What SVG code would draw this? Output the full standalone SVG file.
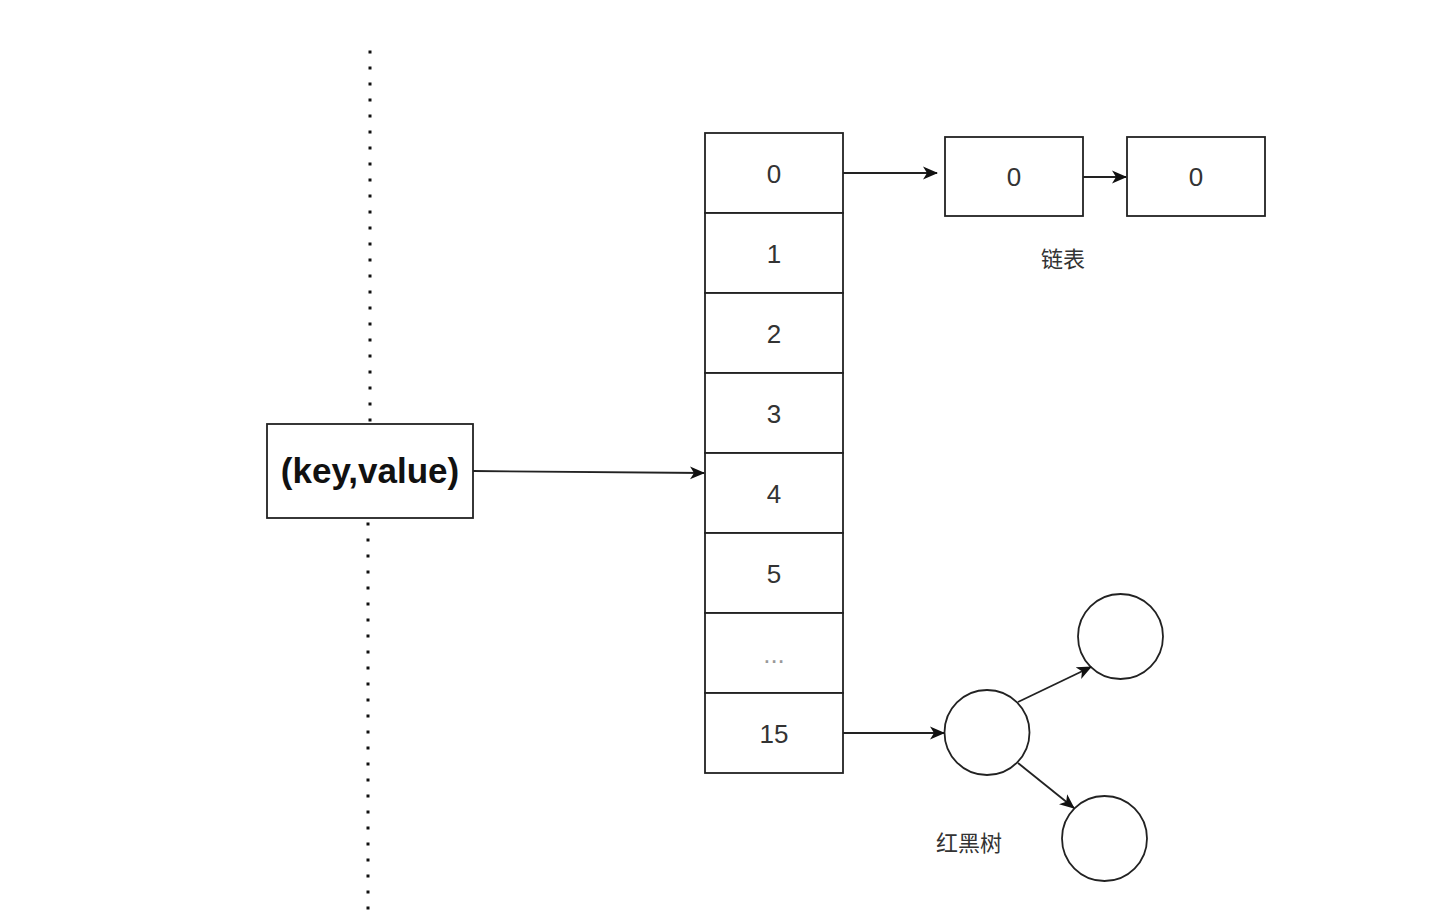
<svg xmlns="http://www.w3.org/2000/svg" width="1452" height="914" viewBox="0 0 1452 914">
<defs>
<style>
.box{fill:#fff;stroke:#222;stroke-width:1.8}
.num{font-family:"Liberation Sans",Arial,sans-serif;font-size:26px;fill:#333;text-anchor:middle}
.cjk{font-family:"Liberation Sans","Noto Sans CJK SC",sans-serif;font-size:22px;fill:#333;text-anchor:middle}
.edge{fill:none;stroke:#222;stroke-width:1.8}
.dot{fill:none;stroke:#111;stroke-width:3;stroke-dasharray:3 13}
</style>
<marker id="arr" markerWidth="15" markerHeight="14" refX="14" refY="7" orient="auto" markerUnits="userSpaceOnUse">
<path d="M0,0.5 L15,7 L0,13.5 L4,7 Z" fill="#111"/>
</marker>
</defs>
<rect width="1452" height="914" fill="#fff"/>
<g id="divider">
<line class="dot" x1="370" y1="50.5" x2="370" y2="424"/>
<line class="dot" x1="368" y1="522.5" x2="368" y2="914"/>
</g>
<g id="kv">
<rect class="box" x="267" y="424" width="206" height="94"/>
<text x="370" y="483" font-family="Liberation Sans,Arial,sans-serif" font-size="35" font-weight="bold" fill="#111" text-anchor="middle">(key,value)</text>
</g>
<g id="array">
<rect class="box" x="705" y="133" width="138" height="80"/>
<text class="num" x="774" y="183">0</text>
<rect class="box" x="705" y="213" width="138" height="80"/>
<text class="num" x="774" y="263">1</text>
<rect class="box" x="705" y="293" width="138" height="80"/>
<text class="num" x="774" y="343">2</text>
<rect class="box" x="705" y="373" width="138" height="80"/>
<text class="num" x="774" y="423">3</text>
<rect class="box" x="705" y="453" width="138" height="80"/>
<text class="num" x="774" y="503">4</text>
<rect class="box" x="705" y="533" width="138" height="80"/>
<text class="num" x="774" y="583">5</text>
<rect class="box" x="705" y="613" width="138" height="80"/>
<text class="num" x="774" y="663" style="fill:#999">...</text>
<rect class="box" x="705" y="693" width="138" height="80"/>
<text class="num" x="774" y="743">15</text>
</g>
<g id="list1">
<rect class="box" x="945" y="137" width="138" height="79"/>
<text class="num" x="1014" y="186">0</text>
</g>
<g id="list2">
<rect class="box" x="1127" y="137" width="138" height="79"/>
<text class="num" x="1196" y="186">0</text>
</g>
<g id="label-list">
<text class="cjk" x="1063" y="267">链表</text>
</g>
<g id="tree-root">
<circle class="box" cx="987" cy="732.5" r="42.5"/>
</g>
<g id="tree-right-top">
<circle class="box" cx="1120.5" cy="636.5" r="42.5"/>
</g>
<g id="tree-right-bottom">
<circle class="box" cx="1104.5" cy="838.5" r="42.5"/>
</g>
<g id="label-tree">
<text class="cjk" x="969" y="851">红黑树</text>
</g>
<g id="connectors">
<line class="edge" x1="473" y1="471" x2="704" y2="473" marker-end="url(#arr)"/>
<line class="edge" x1="843" y1="173" x2="937" y2="173" marker-end="url(#arr)"/>
<line class="edge" x1="1083" y1="177" x2="1126" y2="177" marker-end="url(#arr)"/>
<line class="edge" x1="843" y1="733" x2="944" y2="733" marker-end="url(#arr)"/>
<line class="edge" x1="1018" y1="702" x2="1091" y2="667" marker-end="url(#arr)"/>
<line class="edge" x1="1018" y1="763" x2="1074" y2="808" marker-end="url(#arr)"/>
</g>
</svg>
